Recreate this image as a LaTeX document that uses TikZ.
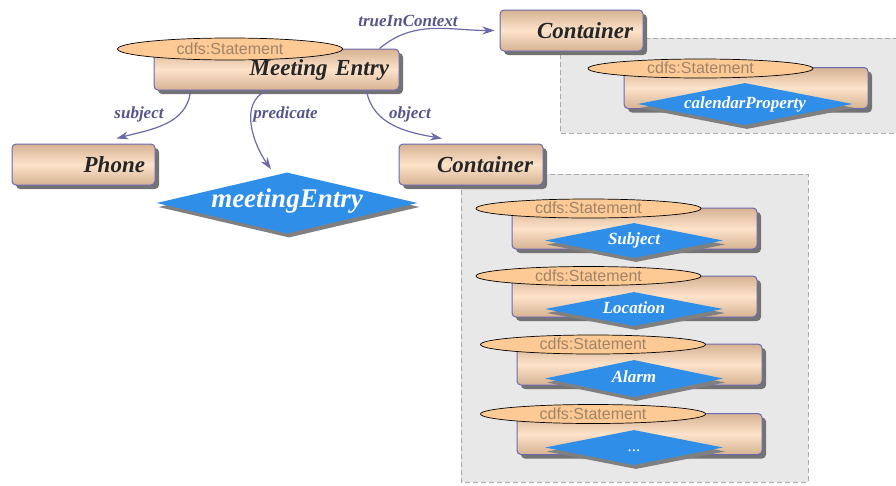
\documentclass[tikz,border=0pt]{standalone}
\usepackage{fontspec}
\setmainfont{Liberation Serif}
\setsansfont{Liberation Sans}
\usetikzlibrary{arrows.meta,shapes.geometric,shadows}

\definecolor{boxedge}{HTML}{6A6AB0}
\definecolor{boxtop}{HTML}{D6B293}
\definecolor{boxmid}{HTML}{FDE3CA}
\definecolor{ovalfill}{HTML}{FDC994}
\definecolor{ovaltext}{HTML}{A08468}
\definecolor{predblue}{HTML}{2E8EE8}
\definecolor{arrowcol}{HTML}{6A6AAA}
\definecolor{labelcol}{HTML}{55558A}
\definecolor{groupfill}{HTML}{E8E8E8}
\definecolor{groupedge}{HTML}{A8A8A8}

\begin{document}
\begin{tikzpicture}[
    x=1pt, y=1pt,
    res/.style={draw=boxedge, line width=1pt, rounded corners=4pt,
        top color=boxtop, bottom color=boxtop, middle color=boxmid,
        drop shadow={shadow xshift=4pt, shadow yshift=-4pt, fill=black!55, opacity=1},
        minimum height=41pt, inner xsep=10pt, text width=#1, align=right,
        text=black!85, font=\fontsize{23}{26}\selectfont\bfseries\itshape},
    stmt/.style={ellipse, draw=black, line width=0.7pt, fill=ovalfill, text=ovaltext,
        inner sep=0pt, minimum width=225pt, minimum height=19pt,
        text height=10pt, text depth=0pt, font=\sffamily\fontsize{16}{17}\selectfont},
    pred/.style={diamond, aspect=5, fill=predblue, inner sep=0pt, text=white,
        drop shadow={shadow xshift=2pt, shadow yshift=-4pt, fill=black!50, opacity=1},
        text height=11pt, text depth=3pt, font=\fontsize{17}{19}\selectfont\bfseries\itshape},
    group/.style={draw=groupedge, fill=groupfill, line width=1pt, dash pattern=on 5pt off 3pt},
    link/.style={draw=arrowcol, line width=1.2pt, -{Stealth[length=12pt, width=8pt]}},
    lbl/.style={text=labelcol, font=\fontsize{17}{19}\selectfont\bfseries\itshape}
]
\useasboundingbox (0,0) rectangle (896,-485);
\clip (0,0) rectangle (896,-485);

% --- context groups ---
\draw[group] (560,-38) rectangle (910,-133);
\draw[group] (461,-174) rectangle (808,-482);

% --- main statement ---
\node[res=225pt] (me) at (276.5,-69.5) {Meeting Entry};
\node[stmt, minimum height=22pt] (meoval) at (230,-49) {cdfs:Statement};
\node[res=123pt] (phone) at (83.5,-164.5) {Phone};
\node[res=124pt] (cont2) at (471,-164.5) {Container};
\node[res=123pt] (cont1) at (571.5,-30.5) {Container};
\node[pred, minimum width=261pt, minimum height=61pt, font=\fontsize{27}{30}\selectfont\bfseries\itshape] (mentry) at (287,-203) {meetingEntry};

% --- connectors ---
\draw[link] ([xshift=37pt]me.south west) to[out=-95, in=15] ([xshift=33pt, yshift=5pt]phone.north);
\draw[link] ([xshift=113pt]me.south west) to[out=205, in=125] ([xshift=-16pt, yshift=3pt]mentry.north);
\draw[link] ([xshift=213pt]me.south west) to[out=-80, in=170] ([xshift=-29pt, yshift=5pt]cont2.north);
\draw[link] ([xshift=226pt]me.north west) to[out=40, in=180] ([xshift=-5pt]cont1.west);

\node[lbl] (lsubj) at (139,-114) {subject};
\node[lbl] (lpred) at (285.5,-114) {predicate};
\node[lbl] (lobj) at (410,-114) {object};
\node[lbl] (lctx) at (408,-21) {trueInContext};

% --- context of first container ---
\node[res=224pt] (cal) at (746,-88) {};
\node[stmt] (caloval) at (700.5,-68.5) {cdfs:Statement};
\node[pred, minimum width=215pt, minimum height=42pt] (calprop) at (745,-104) {calendarProperty};

% --- content of second container ---
\node[res=225pt] (s1) at (634.5,-228.5) {};
\node[stmt] (s1oval) at (588.5,-208.5) {cdfs:Statement};
\node[pred, minimum width=178pt, minimum height=35pt] (s1pred) at (634,-240.5) {Subject};

\node[res=225pt] (s2) at (634.5,-296.5) {};
\node[stmt] (s2oval) at (588.5,-276) {cdfs:Statement};
\node[pred, minimum width=178pt, minimum height=34pt] (s2pred) at (634,-309) {Location};

\node[res=225pt] (s3) at (639.5,-364.5) {};
\node[stmt] (s3oval) at (593,-344.5) {cdfs:Statement};
\node[pred, minimum width=178pt, minimum height=37pt] (s3pred) at (634,-378.5) {Alarm};

\node[res=225pt] (s4) at (639.5,-434) {};
\node[stmt] (s4oval) at (593,-414) {cdfs:Statement};
\node[pred, minimum width=178pt, minimum height=35pt, font=\fontsize{17}{19}\selectfont] (s4pred) at (634,-447.5) {...};

\end{tikzpicture}
\end{document}
